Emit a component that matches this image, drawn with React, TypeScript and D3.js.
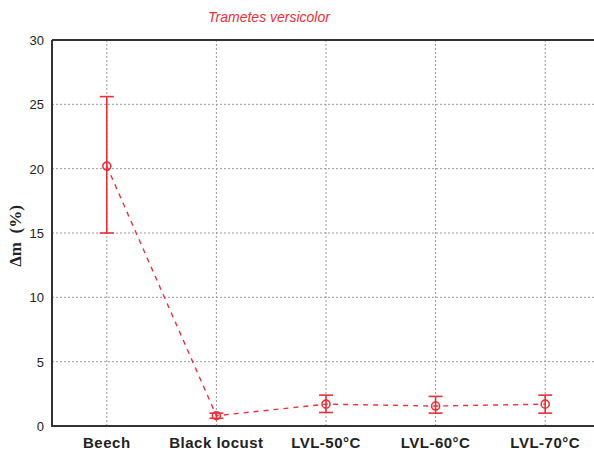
import React from "react";
import * as d3 from "d3";

const categories = ["Beech", "Black locust", "LVL-50°C", "LVL-60°C", "LVL-70°C"];
const means = [20.2, 0.8, 1.7, 1.55, 1.7];
const lowers = [15.0, 0.6, 1.05, 1.0, 1.0];
const uppers = [25.6, 1.0, 2.4, 2.3, 2.4];
const yTicks = [0, 5, 10, 15, 20, 25, 30];
const title = "Trametes versicolor";
const yLabel = "Δm\u00a0 (%)";

const W = 594, H = 453;
const M = { left: 52, right: 600, top: 40, bottom: 426 };
const RED = "#e8313a";

export default function App() {
  const x = d3.scalePoint<string>().domain(categories).range([M.left, M.right]).padding(0.5);
  const y = d3.scaleLinear().domain([0, 30]).range([M.bottom, M.top]);
  const line = d3.line<number>().x((_, i) => x(categories[i])!).y((d) => y(d));
  const font = "'Liberation Sans', Arial, sans-serif";
  return (
    <svg width={W} height={H} style={{ position: "absolute", left: 0, top: 0 }}>
      <rect width={W} height={H} fill="white" />
      <text x={269} y={22} textAnchor="middle" fill={RED} fontStyle="italic" fontFamily={font} fontSize={14}>{title}</text>
      {yTicks.filter((t) => t > 0 && t < 30).map((t) => (
        <line key={"h" + t} x1={M.left} x2={M.right} y1={y(t)} y2={y(t)} stroke="#999" strokeDasharray="2,2" strokeWidth={1} />
      ))}
      {categories.map((c) => (
        <line key={"v" + c} x1={x(c)} x2={x(c)} y1={M.top} y2={M.bottom} stroke="#999" strokeDasharray="2,2" strokeWidth={1} />
      ))}
      <path d={`M${M.left},${M.top}H${M.right}M${M.left},${M.top}V${M.bottom}H${M.right}`} fill="none" stroke="#333" strokeWidth={2} />
      {yTicks.map((t) => (
        <text key={"yt" + t} x={44} y={y(t) + 5} textAnchor="end" fontFamily={font} fontSize={13} fill="#222">{t}</text>
      ))}
      {categories.map((c) => (
        <text key={"xt" + c} x={x(c)} y={448} textAnchor="middle" fontFamily={font} fontSize={15} letterSpacing={0.5} fontWeight="bold" fill="#222">{c}</text>
      ))}
      <text transform={`translate(21,236) rotate(-90)`} textAnchor="middle" fontFamily="'Liberation Serif', serif" fontWeight="bold" fontSize={17} fill="#222">{yLabel}</text>
      <path d={line(means)!} fill="none" stroke={RED} strokeWidth={1.4} strokeDasharray="5,5" />
      {categories.map((c, i) => {
        const cx = x(c)!;
        return (
          <g key={"e" + c} stroke={RED} strokeWidth={1.6} fill="none">
            <line x1={cx} x2={cx} y1={y(lowers[i])} y2={y(uppers[i])} />
            <line x1={cx - 7} x2={cx + 7} y1={y(lowers[i])} y2={y(lowers[i])} />
            <line x1={cx - 7} x2={cx + 7} y1={y(uppers[i])} y2={y(uppers[i])} />
            <circle cx={cx} cy={y(means[i])} r={4} />
          </g>
        );
      })}
    </svg>
  );
}
